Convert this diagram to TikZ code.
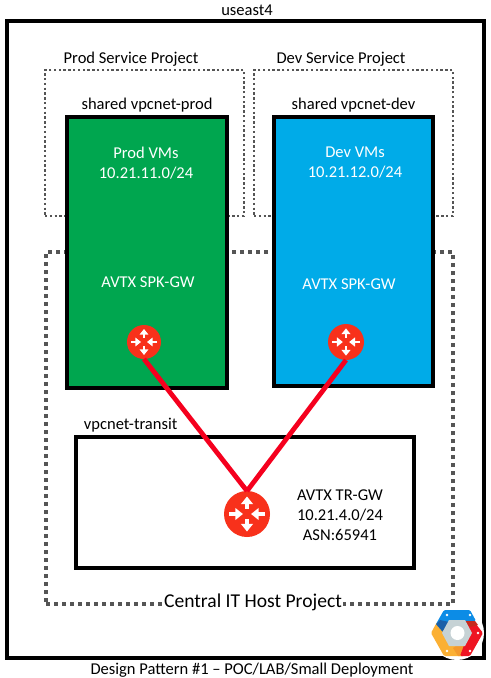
\documentclass[tikz,border=0pt]{standalone}
\usepackage{fontspec}
\setmainfont{Carlito}
\usepackage{xcolor}
\usetikzlibrary{arrows.meta,positioning}
\definecolor{prodgreen}{HTML}{00A64F}
\definecolor{devblue}{HTML}{00ABE8}
\definecolor{linkred}{HTML}{F5001E}
\definecolor{routerred}{HTML}{F8311B}
\definecolor{dotgray}{HTML}{555555}
\definecolor{logoblue}{HTML}{0C8CE6}
\definecolor{logodarkblue}{HTML}{1A5FA8}
\definecolor{logored}{HTML}{EE1522}
\definecolor{logodarkred}{HTML}{C52A1E}
\definecolor{logoyellow}{HTML}{FBB034}
\definecolor{logoorange}{HTML}{F49A2C}
\definecolor{logogray}{HTML}{C6D2D5}

% white arrows of a router, size relative to a radius of 17
\newcommand{\routerarrows}[2]{%
  \begin{scope}[shift={(#1.center)},scale=#2,line width=#2*1.7pt,white,-{Triangle[length=4.2pt,width=6.4pt,scale=#2]}]
    \draw (0,-4) -- (0,-13);
    \draw (0,4) -- (0,13);
    \draw (-13,0) -- (-3,0);
    \draw (13,0) -- (3,0);
  \end{scope}}

\begin{document}
\begin{tikzpicture}[
    x=0.75pt, y=-0.75pt,
    box/.style={rectangle, draw=black, line width=2.4pt, minimum width=#1*0.75pt, outer sep=0pt, inner sep=0pt},
    project/.style={rectangle, draw=dotgray, line width=1.3pt, dash pattern=on 1.8pt off 1.8pt, minimum width=#1*0.75pt, outer sep=0pt},
    hostproject/.style={rectangle, draw=dotgray, line width=2.3pt, dash pattern=on 3pt off 3pt, minimum width=#1*0.75pt, outer sep=0pt},
    router/.style={circle, fill=routerred, minimum size=#1*0.75pt, inner sep=0pt, outer sep=0pt},
    link/.style={linkred, line width=3.6pt},
    label/.style={font=\fontsize{12.4}{15}\selectfont, inner sep=0pt, align=center},
    white label/.style={label, text=white}
  ]
  \useasboundingbox (0,0) rectangle (491,678);
  \fill[white] (0,0) rectangle (491,678);

  % Region
  \node[box=477, minimum height=637*0.75pt] (region) at (245.5,339.5) {};
  \node[label] (regionname) at (247,10) {useast4};
  \node[label] (caption) at (252,670) {Design Pattern \#1 – POC/LAB/Small Deployment};

  % Projects
  \node[project=199, minimum height=146*0.75pt] (prodproject) at (144.5,143) {};
  \node[project=199, minimum height=146*0.75pt] (devproject) at (353.5,143) {};
  \node[hostproject=407, minimum height=352*0.75pt] (hostproject) at (249.5,428) {};
  \node[label] (prodprojectname) at (131,59) {Prod Service Project};
  \node[label] (devprojectname) at (341,59) {Dev Service Project};
  \node[label, fill=white, font=\fontsize{14.7}{17}\selectfont, inner xsep=1pt, inner ysep=1pt] (hostprojectname) at (253,602) {Central IT Host Project};

  % Spoke networks
  \node[box=160, minimum height=271*0.75pt, fill=prodgreen] (prodnet) at (147,252.5) {};
  \node[box=159, minimum height=269*0.75pt, fill=devblue] (devnet) at (353.5,251.5) {};
  \node[label, above=3.2pt of prodnet] (prodnetname) {shared vpcnet-prod};
  \node[label, above=3.2pt of devnet] (devnetname) {shared vpcnet-dev};
  \node[white label] (prodvms) at (146,163) {Prod VMs\\10.21.11.0/24};
  \node[white label] (devvms) at (355,163) {Dev VMs\\10.21.12.0/24};
  \node[white label] (prodspk) at (148,282) {AVTX SPK-GW};
  \node[white label] (devspk) at (349,284) {AVTX SPK-GW};

  % Transit network
  \node[box=338, minimum height=131*0.75pt, fill=white] (transitnet) at (245,502.5) {};
  \node[label, above=3.2pt of transitnet.north west, xshift=41pt] (transitnetname) {vpcnet-transit};
  \node[label] (trgwname) at (340,515) {AVTX TR-GW\\10.21.4.0/24\\ASN:65941};

  % Gateways
  \node[router=34] (prodgw) at (144,342) {};
  \node[router=36] (devgw) at (346,342) {};
  \node[router=46] (trgw) at (247,514) {};
  \routerarrows{prodgw}{1}
  \routerarrows{devgw}{1.05}
  \routerarrows{trgw}{1.35}

  % Links
  \draw[link] (prodgw.south) -- (trgw.north);
  \draw[link] (devgw.south) -- (trgw.north);

  % Cloud logo
  \fill[white] (457,633) circle (27);
  \fill[logoyellow, rounded corners=1pt] (431,633) -- (437,622) -- (460,640) -- (464,656) -- (444,656) -- cycle;
  \fill[logoorange] (453,648) -- (465,640) -- (463,656) -- (458,656) -- cycle;
  \fill[logored, rounded corners=1pt] (465,620) -- (472,619) -- (483,633) -- (470,656) -- (460,656) -- (466,640) -- cycle;
  \fill[logoblue, rounded corners=1pt] (444,610) -- (470,610) -- (476,621) -- (449,624) -- (443,632) -- (436,624) -- cycle;
  \fill[logodarkred] (465,621) -- (475,621) -- (478,625) -- (470,627) -- cycle;
  \fill[logodarkblue] (436,624) -- (440,620) -- (449,622) -- (443,632) -- cycle;
  \fill[logogray] (472,633) -- (465,620) -- (449,620) -- (442,633) -- (449,646) -- (465,646) -- cycle;
  \fill[white] (457.5,633) circle (7);
  \foreach \dotx/\doty in {447/615, 470/615, 478/633, 470/651, 447/651}
    \fill[white] (\dotx,\doty) circle (1.3);
\end{tikzpicture}
\end{document}
